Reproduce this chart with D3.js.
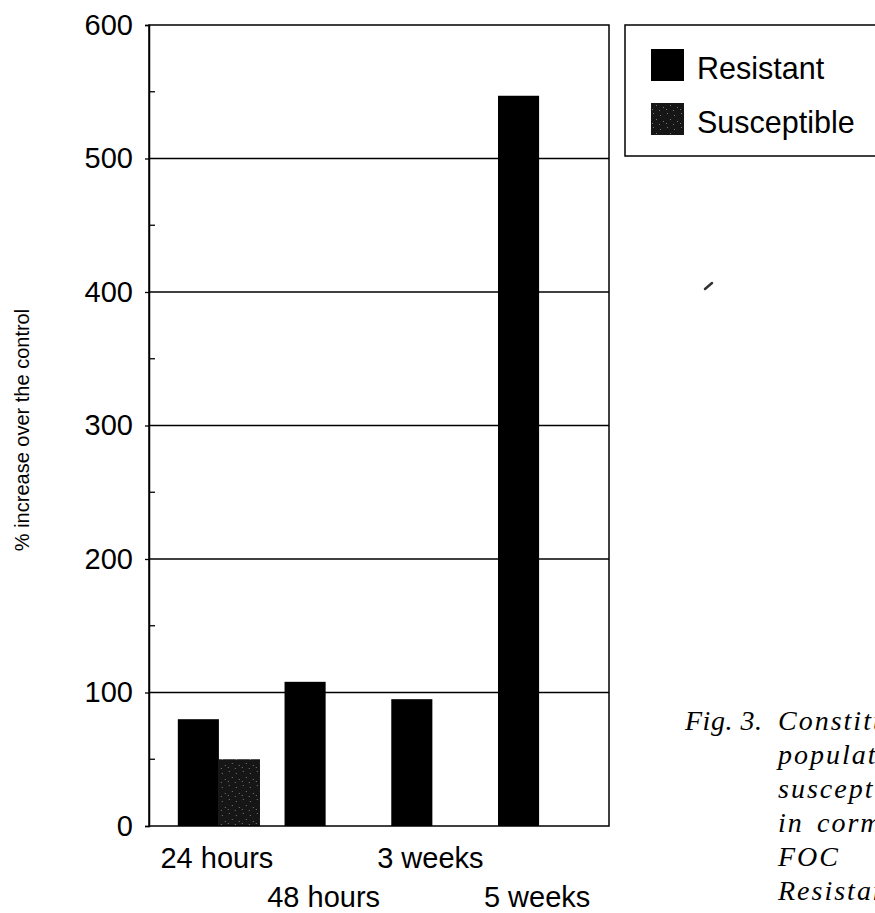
<!DOCTYPE html>
<html>
<head>
<meta charset="utf-8">
<script src="https://cdn.jsdelivr.net/npm/d3@7"></script>
<style>
  html, body { margin: 0; padding: 0; background: #fff; }
  svg { display: block; }
</style>
</head>
<body>
<svg id="chart" width="875" height="913"></svg>
<script>
// ---- data ----
const categories = ["24 hours", "48 hours", "3 weeks", "5 weeks"];
const seriesNames = ["Resistant", "Susceptible"];
const resistant = [80, 108, 95, 547];
const susceptible = [50, null, null, null];
const yTicks = [0, 100, 200, 300, 400, 500, 600];
const yMinorTicks = [50, 150, 250, 350, 450, 550];
const yLabel = "% increase over the control";
const captionLabel = "Fig. 3.";
const captionLines = [["Constitutive"], ["population"], ["susceptible"], ["in", "corms"], ["FOC"], ["Resistant"]];

const svg = d3.select("#chart");
const plot = { left: 149, right: 609, top: 25, bottom: 826 };

// pattern for the speckled susceptible bars
const defs = svg.append("defs");
const pat = defs.append("pattern").attr("id", "speckle").attr("patternUnits", "userSpaceOnUse")
  .attr("width", 14).attr("height", 14);
pat.append("rect").attr("width", 14).attr("height", 14).attr("fill", "#161616");
[[2,3],[9,1],[5,9],[12,7],[1,12],[8,11]].forEach(([cx, cy]) => {
  pat.append("rect").attr("x", cx).attr("y", cy).attr("width", 1).attr("height", 1).attr("fill", "#777");
});

const y = d3.scaleLinear().domain([0, 600]).range([plot.bottom, plot.top]);
const x0 = d3.scaleBand().domain(categories).range([plot.left, plot.right])
  .paddingInner(0.23).paddingOuter(0.27);
const x1 = d3.scaleBand().domain(seriesNames).range([0, x0.bandwidth()]).padding(0);
const fills = { Resistant: "#000", Susceptible: "url(#speckle)" };

// gridlines
svg.append("g").selectAll("line").data(yTicks.filter(t => t > 0 && t < 600)).join("line")
  .attr("x1", plot.left).attr("x2", plot.right)
  .attr("y1", d => y(d)).attr("y2", d => y(d))
  .attr("stroke", "#000").attr("stroke-width", 1.3);

// bars
const rows = categories.map((c, i) => ({ cat: c, values: [
  { key: "Resistant", v: resistant[i] }, { key: "Susceptible", v: susceptible[i] }] }));
svg.append("g").selectAll("g").data(rows).join("g")
  .attr("transform", d => `translate(${x0(d.cat)},0)`)
  .selectAll("rect").data(d => d.values.filter(v => v.v != null)).join("rect")
  .attr("x", d => x1(d.key)).attr("width", x1.bandwidth())
  .attr("y", d => y(d.v)).attr("height", d => y(0) - y(d.v))
  .attr("fill", d => fills[d.key]);

// frame
svg.append("rect").attr("x", plot.left).attr("y", plot.top)
  .attr("width", plot.right - plot.left).attr("height", plot.bottom - plot.top)
  .attr("fill", "none").attr("stroke", "#000").attr("stroke-width", 1.5);

// y axis
const yAxis = d3.axisLeft(y).tickValues(yTicks).tickSize(4).tickPadding(12);
const ga = svg.append("g").attr("transform", `translate(${plot.left},0)`).call(yAxis);
ga.select(".domain").attr("stroke-width", 1.5);
ga.selectAll(".tick line").attr("stroke-width", 1.3);
ga.selectAll("text").attr("font-family", "'Liberation Sans', Arial, sans-serif")
  .attr("font-size", 29).attr("fill", "#000");
// minor ticks (inward)
svg.append("g").selectAll("line").data(yMinorTicks).join("line")
  .attr("x1", plot.left).attr("x2", plot.left + 6)
  .attr("y1", d => y(d)).attr("y2", d => y(d))
  .attr("stroke", "#000").attr("stroke-width", 1.3);

// x labels, staggered
svg.append("g").selectAll("text").data(categories).join("text")
  .attr("x", d => x0(d) + x0.bandwidth() / 2 - 2)
  .attr("y", (d, i) => i % 2 === 0 ? 868 : 907)
  .attr("text-anchor", "middle")
  .attr("font-family", "'Liberation Sans', Arial, sans-serif").attr("font-size", 29)
  .text(d => d);

// y label
svg.append("text")
  .attr("transform", `translate(29, 430) rotate(-90)`)
  .attr("text-anchor", "middle")
  .attr("font-family", "'Liberation Sans', Arial, sans-serif").attr("font-size", 20)
  .text(yLabel);

// legend
const lg = svg.append("g");
lg.append("rect").attr("x", 625).attr("y", 25).attr("width", 300).attr("height", 131)
  .attr("fill", "#fff").attr("stroke", "#000").attr("stroke-width", 1.5);
seriesNames.forEach((s, i) => {
  lg.append("rect").attr("x", 651).attr("y", 49 + i * 54).attr("width", 33).attr("height", 32)
    .attr("fill", fills[s]);
  lg.append("text").attr("x", 697).attr("y", 79 + i * 54)
    .attr("font-family", "'Liberation Sans', Arial, sans-serif").attr("font-size", 30.5)
    .text(s);
});

// small scan mark
svg.append("path").attr("d", "M705,289 L712,283").attr("stroke", "#333").attr("stroke-width", 2.5)
  .attr("stroke-linecap", "round");

// caption (clipped by page edge, as in the scanned original)
const cap = svg.append("g").attr("font-family", "'Liberation Serif', 'DejaVu Serif', serif")
  .attr("font-style", "italic").attr("font-size", 28).attr("fill", "#000");
cap.append("text").attr("x", 685).attr("y", 730).attr("letter-spacing", 0.5).text(captionLabel);
captionLines.forEach((words, i) => {
  const gy = 730 + i * 34;
  cap.append("text").attr("x", 778).attr("y", gy).attr("letter-spacing", 2).text(words[0]);
  if (words[1]) cap.append("text").attr("x", 817).attr("y", gy).attr("letter-spacing", 2).text(words[1]);
});
</script>
</body>
</html>
